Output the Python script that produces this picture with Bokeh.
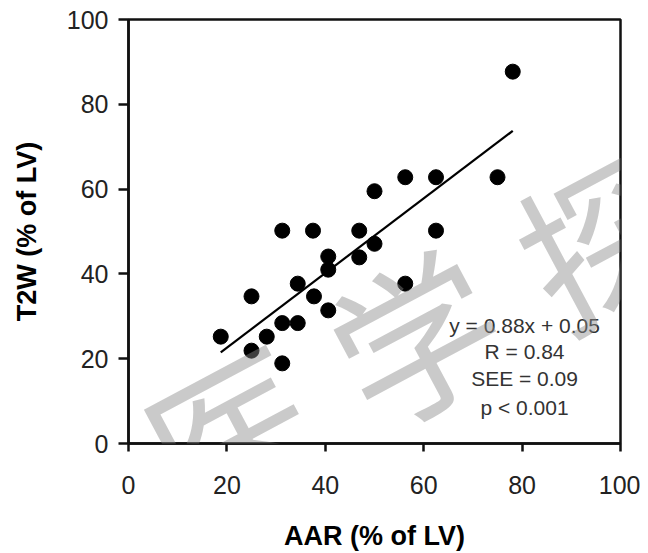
from bokeh.plotting import figure
from bokeh.models import Range1d, Label, FixedTicker, ColumnDataSource
from bokeh.embed import file_html
from bokeh.resources import INLINE

# ---- data ----
aar = [18.75, 25.0, 25.0, 28.1, 31.25, 34.4, 31.25, 34.4, 31.25, 37.5, 37.7, 40.6,
       40.6, 40.6, 46.9, 46.9, 50.0, 50.0, 56.25, 62.5, 75.0, 78.1, 62.5, 56.25]
t2w = [25.2, 34.7, 21.9, 25.2, 28.4, 28.4, 18.9, 37.7, 50.2, 50.2, 34.7, 44.1,
       41.0, 31.4, 50.2, 43.9, 47.1, 59.5, 62.8, 62.8, 62.8, 87.7, 50.2, 37.7]

slope = 0.88
intercept = 5.0  # 0.05 as fraction -> 5 % of LV

ticks = [0, 20, 40, 60, 80, 100]
stats_lines = ["y = 0.88x + 0.05", "R = 0.84", "SEE = 0.09", "p < 0.001"]
watermark_chars = ["医", "学", "探"]

x_label = "AAR (% of LV)"
y_label = "T2W (% of LV)"

# ---- figure ----
p = figure(frame_width=492, frame_height=424,
           x_range=Range1d(0, 100), y_range=Range1d(0, 100),
           output_backend="svg", toolbar_location=None,
           min_border_left=128, min_border_right=20,
           min_border_top=19, min_border_bottom=100,
           background_fill_color="white", border_fill_color="white")

p.xgrid.visible = False
p.ygrid.visible = False
p.outline_line_color = "#111111"
p.outline_line_width = 2.5
p.outline_line_alpha = 1.0

# regression line from the stated equation, over the data's x-range
x_fit = [min(aar), max(aar)]
y_fit = [slope * v + intercept for v in x_fit]
p.line(x_fit, y_fit, line_color="black", line_width=2.2)

src = ColumnDataSource(dict(x=aar, y=t2w))
p.scatter("x", "y", source=src, size=15, fill_color="black", line_color="black")

# stats annotation
stats_x = 80.5
stats_y = [27.9, 21.8, 15.3, 8.4]
for txt, sy in zip(stats_lines, stats_y):
    p.add_layout(Label(x=stats_x, y=sy, text=txt,
                       text_font="Liberation Sans", text_font_size="21px",
                       text_color="#333333", text_align="center",
                       text_baseline="middle"))

# watermark: translucent grey so dark marks beneath stay dark
wm_pos = [(20.7, 3.3), (57.9, 26.2), (95.9, 49.3)]
for ch, (wx, wy) in zip(watermark_chars, wm_pos):
    p.add_layout(Label(x=wx, y=wy, text=ch, angle=0.49,
                       text_font="Noto Sans CJK SC", text_font_size="165px",
                       text_color="#8a8a8a", text_alpha=0.45,
                       text_align="center", text_baseline="middle"))

# axes
for ax in (p.xaxis[0], p.yaxis[0]):
    ax.ticker = FixedTicker(ticks=ticks)
    ax.minor_tick_line_color = None
    ax.major_tick_in = 0
    ax.axis_line_width = 2.5
    ax.axis_line_color = "#111111"
    ax.major_tick_line_width = 2.5
    ax.major_tick_line_color = "#111111"
    ax.major_label_text_font = "Liberation Sans"
    ax.major_label_text_font_size = "25px"
    ax.major_label_text_color = "#222222"
    ax.axis_label_text_font = "Liberation Sans"
    ax.axis_label_text_font_size = "27px"
    ax.axis_label_text_font_style = "bold"
    ax.axis_label_text_color = "black"

p.xaxis.axis_label = x_label
p.yaxis.axis_label = y_label
p.xaxis.major_tick_out = 8
p.xaxis.major_label_standoff = 24
p.xaxis.axis_label_standoff = 24
p.yaxis.major_tick_out = 10
p.yaxis.major_label_standoff = 10
p.yaxis.axis_label_standoff = 22

open("out.html", "w").write(file_html(p, INLINE))
